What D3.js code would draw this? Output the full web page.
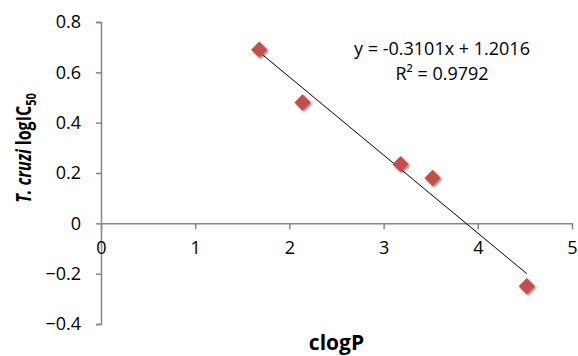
<!DOCTYPE html>
<html>
<head>
<meta charset="utf-8">
<script src="https://cdn.jsdelivr.net/npm/d3@7"></script>
<style>
  body { margin: 0; background: #fff; }
  svg { display: block; font-family: "Open Sans", sans-serif; }
</style>
</head>
<body>
<svg id="chart" width="578" height="356"></svg>
<script>
// Data
const clogP = [1.68, 2.14, 3.18, 3.52, 4.52];
const logIC50 = [0.69, 0.48, 0.235, 0.18, -0.25];
const xTicks = [0, 1, 2, 3, 4, 5];
const yTicks = [-0.4, -0.2, 0, 0.2, 0.4, 0.6, 0.8];
const slope = -0.3101, intercept = 1.2016;
const eqLabel = "y = -0.3101x + 1.2016";
const r2Label = "R² = 0.9792";

const svg = d3.select("#chart");
const m = {left: 101, right: 6, top: 22, bottom: 32};
const W = 578, H = 356;

const x = d3.scaleLinear().domain([0, 5]).range([m.left, W - m.right]);
const y = d3.scaleLinear().domain([-0.4, 0.8]).range([H - m.bottom, m.top]);
const axisColor = "#868686";

// drop shadow for markers
const defs = svg.append("defs");
const f = defs.append("filter").attr("id", "shadow")
    .attr("x", "-50%").attr("y", "-50%").attr("width", "200%").attr("height", "200%");
f.append("feDropShadow").attr("dx", 1.5).attr("dy", 1.5).attr("stdDeviation", 1.3)
    .attr("flood-color", "#000").attr("flood-opacity", 0.45);

// y axis
const yAxis = svg.append("g")
    .attr("transform", `translate(${x(0)},0)`)
    .call(d3.axisLeft(y).tickValues(yTicks).tickSize(5).tickPadding(15)
        .tickFormat(d => d === 0 ? "0" : d3.format(".1f")(d)));
yAxis.select(".domain").attr("stroke", axisColor).attr("stroke-width", 1.5);
yAxis.selectAll(".tick line").attr("stroke", axisColor).attr("stroke-width", 1.5);
yAxis.selectAll(".tick text").attr("font-size", 18).attr("fill", "#000")
    .attr("font-family", "Open Sans");

// x axis at y = 0
const xAxis = svg.append("g")
    .attr("transform", `translate(0,${y(0)})`)
    .call(d3.axisBottom(x).tickValues(xTicks).tickSize(6).tickSizeOuter(0).tickPadding(12)
        .tickFormat(d3.format("d")));
xAxis.select(".domain").attr("stroke", axisColor).attr("stroke-width", 1.5);
xAxis.selectAll(".tick line").attr("stroke", axisColor).attr("stroke-width", 1.5);
xAxis.selectAll(".tick text").attr("font-size", 18).attr("fill", "#000")
    .attr("font-family", "Open Sans");

// trendline
const xr = d3.extent(clogP);
svg.append("line")
    .attr("x1", x(xr[0])).attr("y1", y(slope * xr[0] + intercept))
    .attr("x2", x(xr[1])).attr("y2", y(slope * xr[1] + intercept))
    .attr("stroke", "#000").attr("stroke-width", 1);

// markers
const diamond = d3.symbol().type(d3.symbolDiamond2).size(170);
svg.selectAll(".pt")
    .data(clogP.map((v, i) => ({x: v, y: logIC50[i]})))
    .join("path")
    .attr("class", "pt")
    .attr("d", diamond)
    .attr("transform", d => `translate(${x(d.x)},${y(d.y)})`)
    .attr("fill", "#C0504D")
    .attr("filter", "url(#shadow)");

// equation
svg.append("text").attr("x", 442).attr("y", 55).attr("text-anchor", "middle")
    .attr("font-size", 18).text(eqLabel);
svg.append("text").attr("x", 442).attr("y", 80).attr("text-anchor", "middle")
    .attr("font-size", 18).text(r2Label);

// axis titles
svg.append("text").attr("x", x(2.5)).attr("y", 350).attr("text-anchor", "middle")
    .attr("font-size", 21).attr("font-weight", "bold").text("clogP");

const yt = svg.append("text")
    .attr("transform", "translate(31,148) rotate(-90) scale(1,1.35)")
    .attr("text-anchor", "middle")
    .attr("font-size", 16).attr("font-weight", "bold");
yt.append("tspan").attr("font-style", "italic").text("T. cruzi");
yt.append("tspan").text(" logIC");
yt.append("tspan").attr("font-size", 11).attr("dy", 4).text("50");
</script>
</body>
</html>
